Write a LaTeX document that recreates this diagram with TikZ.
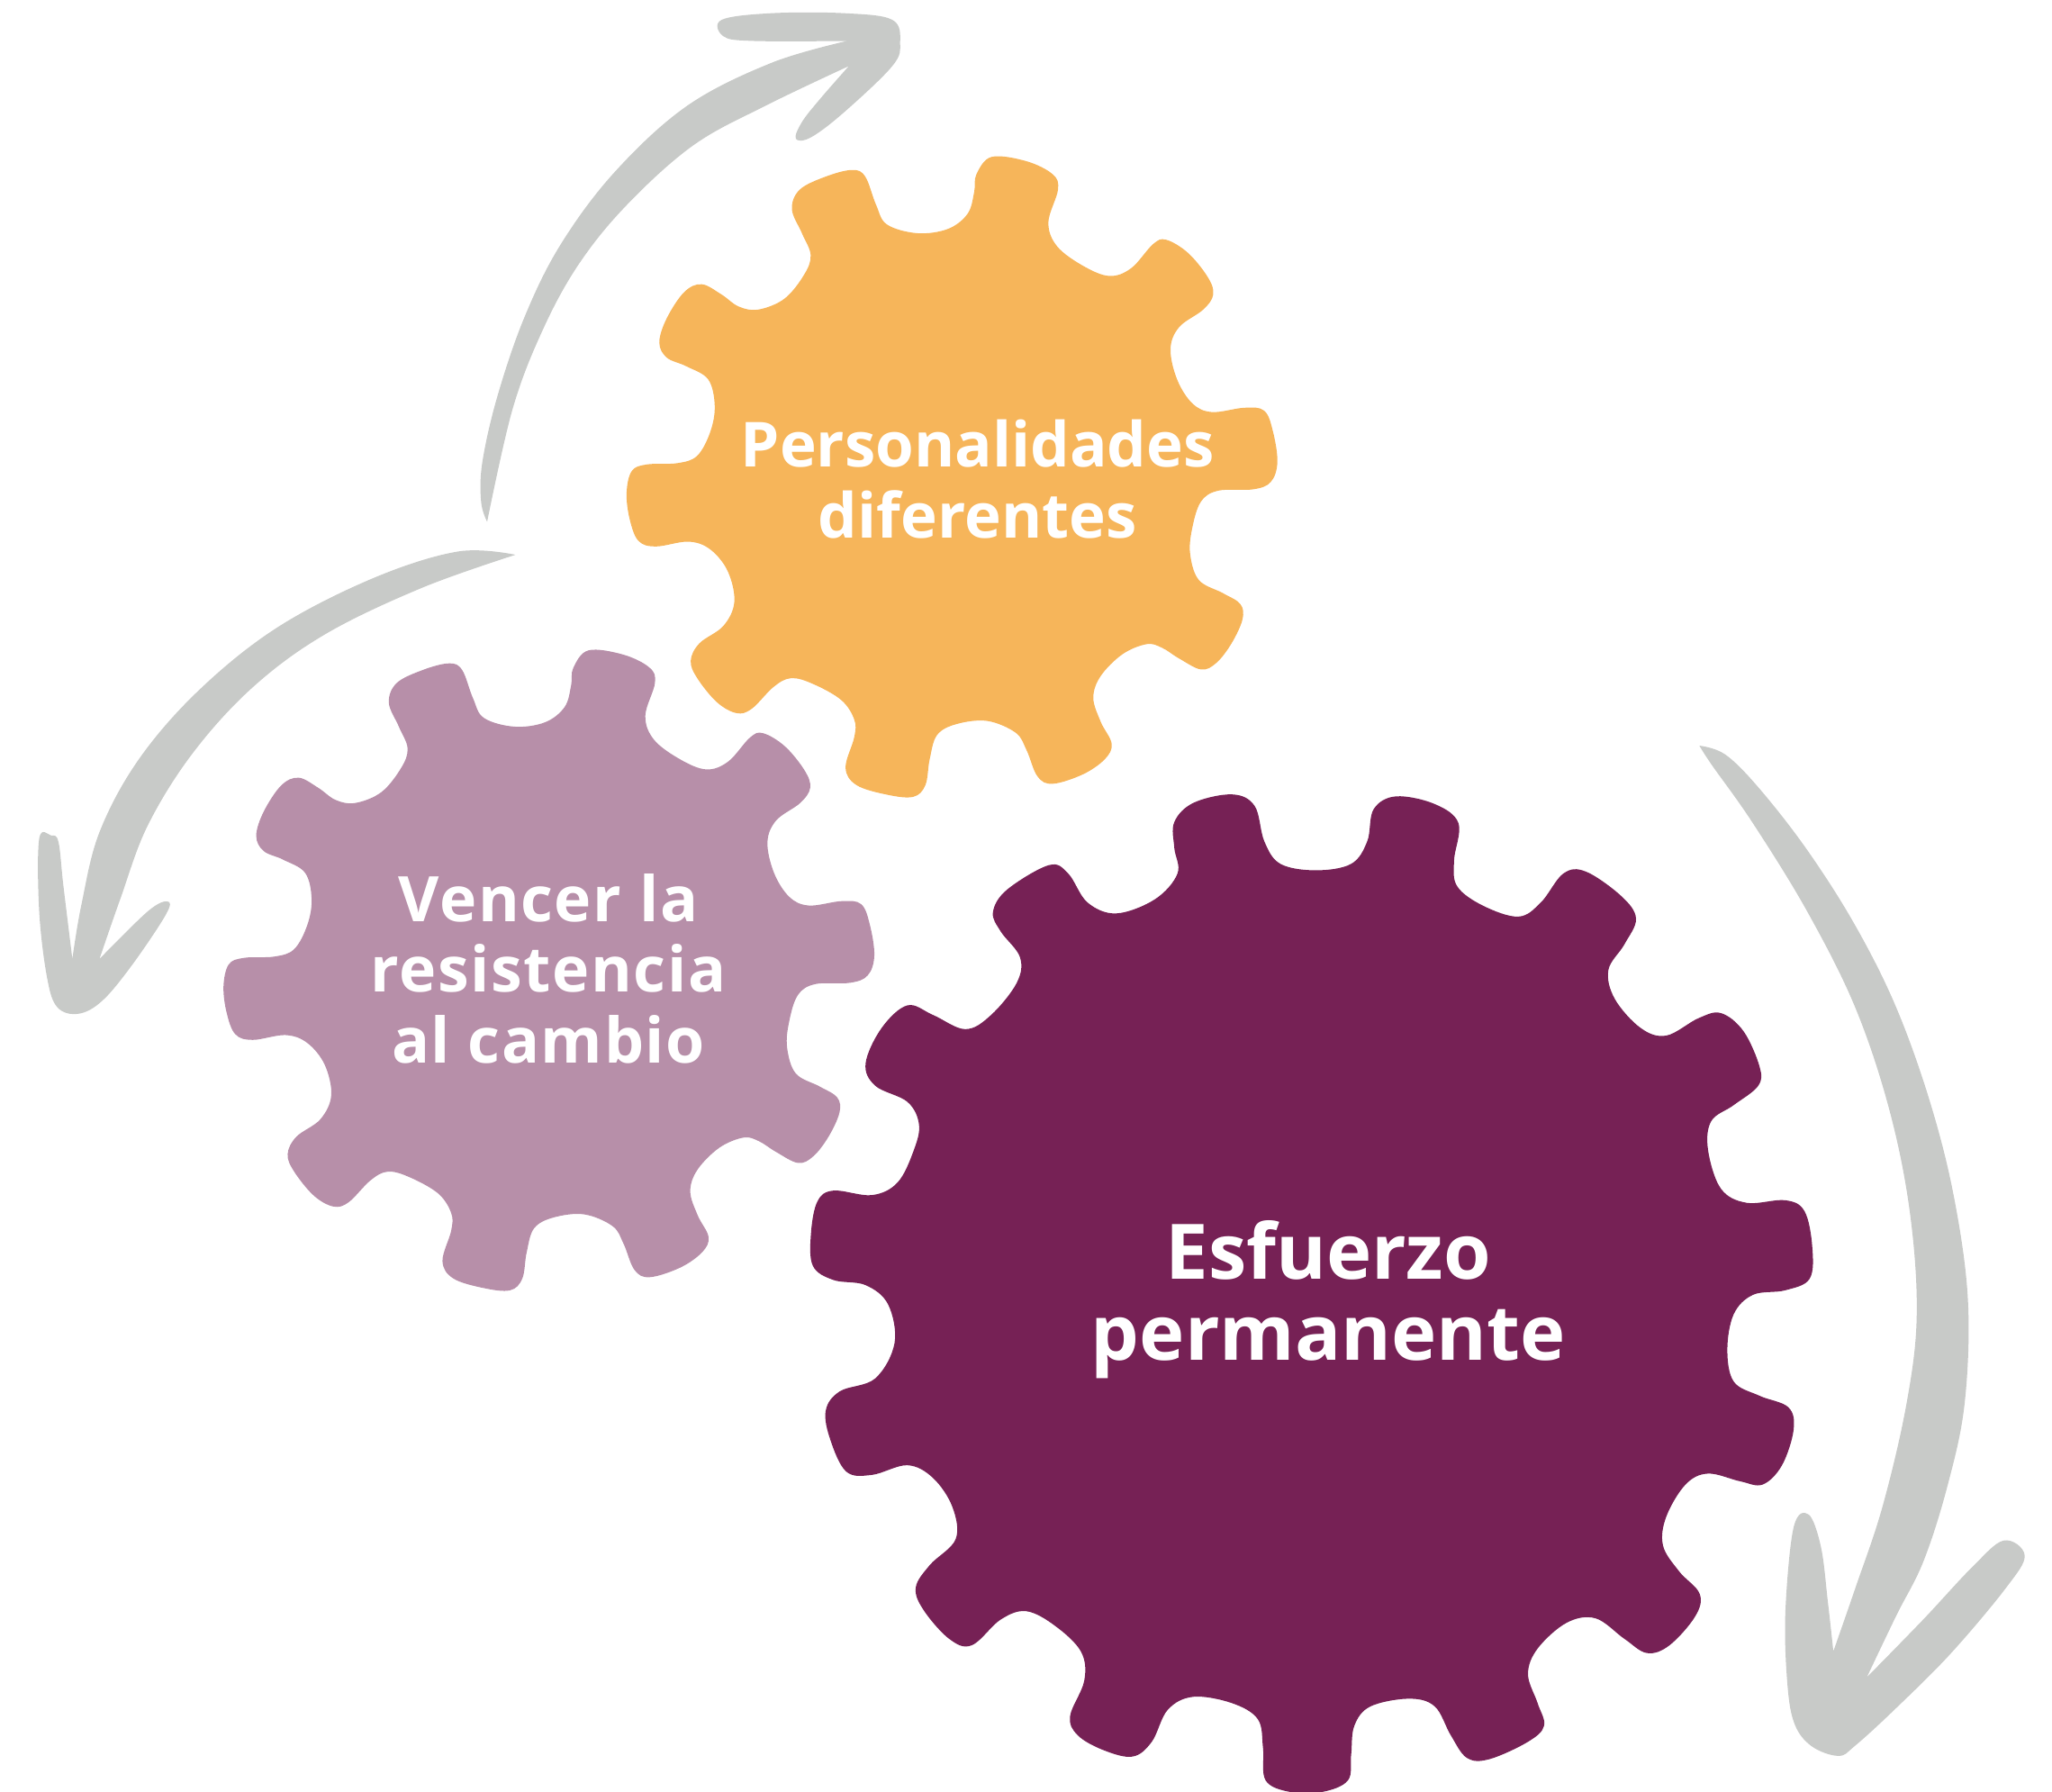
\documentclass[tikz,border=0pt]{standalone}
\usepackage{fontspec}
\setmainfont{Open Sans}
\definecolor{gearorange}{HTML}{F6B55A}
\definecolor{gearmauve}{HTML}{B78FA9}
\definecolor{gearplum}{HTML}{762155}
\definecolor{arrowgray}{HTML}{C8CAC8}
\tikzset{
  sketch/.style={smooth,tension=0.6},
  sketchcycle/.style={smooth cycle,tension=0.6},
  gearlabel/.style={text=white,align=center,inner sep=0pt,font=\fontsize{47.5}{54.3}\selectfont\bfseries},
  widelabel/.style={gearlabel,font=\fontsize{48}{54}\selectfont\bfseries\addfontfeature{LetterSpace=2.3}},
  biglabel/.style={gearlabel,font=\fontsize{58.5}{61.4}\selectfont\bfseries}
}
\newcommand{\smallgear}[1]{%
  \fill[#1] plot[sketchcycle] coordinates {
    (835,90) (870,50) (950,60) (1010,90) (1022,125) (1000,200) (1020,255) (1080,300) (1140,323) (1190,305)
    (1240,250) (1270,240) (1320,270) (1365,325) (1378,365) (1355,400) (1300,440) (1280,490) (1295,560) (1330,615)
    (1375,635) (1450,625) (1495,632) (1515,680) (1525,750) (1510,795) (1470,812) (1390,815) (1350,840) (1330,900)
    (1325,960) (1345,1020) (1400,1050) (1440,1075) (1445,1110) (1420,1165) (1385,1210) (1350,1225) (1300,1200) (1260,1175)
    (1225,1167) (1170,1190) (1120,1240) (1103,1290) (1120,1345) (1145,1395) (1130,1430) (1080,1465) (1010,1487) (975,1470)
    (950,1410) (925,1370) (860,1343) (790,1350) (745,1375) (728,1430) (718,1490) (690,1517) (630,1512) (560,1490)
    (535,1450) (555,1380) (555,1340) (525,1295) (460,1258) (410,1245) (370,1265) (320,1315) (285,1325) (240,1300)
    (195,1245) (180,1205) (200,1165) (255,1125) (280,1070) (265,1000) (225,950) (175,932) (100,943) (60,930)
    (40,880) (33,820) (45,770) (80,755) (150,752) (195,735) (225,680) (235,620) (220,560) (170,530)
    (125,510) (108,475) (125,420) (165,360) (205,342) (250,365) (290,393) (335,400) (395,375) (440,320)
    (455,275) (435,225) (412,170) (430,125) (490,95) (550,80) (580,95) (605,160) (630,205) (700,225)
    (770,215) (815,180) (830,130)};
}
\begin{document}
\begin{tikzpicture}[x=1pt,y=-1pt]
  \useasboundingbox (0,0) rectangle (1568,1369);
  % gears
  \begin{scope}[shift={(467.8,103.2)},scale=0.3333]
    \smallgear{gearorange}
  \end{scope}
  \begin{scope}[shift={(159.8,480.2)},scale=0.3333]
    \smallgear{gearmauve}
  \end{scope}
  \begin{scope}[shift={(612.3,598.6)},scale=0.4914]
    \fill[gearplum] plot[sketchcycle] coordinates {
      (580,60) (610,30) (670,17) (705,35) (720,90) (745,125) (800,135) (855,125) (880,90) (890,40)
      (925,20) (985,32) (1022,62) (1015,120) (1020,160) (1060,190) (1115,207) (1150,185) (1185,140) (1220,137)
      (1275,175) (1298,210) (1280,250) (1255,290) (1265,335) (1305,380) (1345,392) (1395,365) (1430,357) (1465,385)
      (1490,440) (1488,470) (1450,500) (1415,525) (1410,570) (1430,630) (1470,652) (1530,648) (1560,665) (1572,720)
      (1568,770) (1530,788) (1480,795) (1450,825) (1440,880) (1450,930) (1490,952) (1535,970) (1543,1005) (1525,1060)
      (1495,1090) (1460,1085) (1410,1073) (1375,1090) (1345,1140) (1340,1185) (1365,1225) (1397,1260) (1390,1295) (1350,1340)
      (1315,1352) (1280,1330) (1235,1298) (1190,1305) (1145,1345) (1130,1385) (1145,1430) (1155,1465) (1130,1490) (1070,1517)
      (1035,1515) (1010,1480) (985,1435) (945,1423) (885,1435) (860,1465) (855,1510) (850,1550) (810,1568) (760,1568)
      (722,1550) (718,1500) (710,1455) (670,1430) (610,1420) (570,1440) (545,1490) (515,1513) (470,1503) (430,1480)
      (418,1450) (440,1395) (435,1350) (395,1310) (350,1287) (310,1300) (265,1340) (230,1330) (190,1285) (178,1250)
      (200,1215) (240,1175) (235,1125) (205,1080) (165,1060) (110,1075) (70,1070) (45,1020) (38,975) (60,945)
      (115,925) (145,870) (135,810) (100,780) (50,772) (18,750) (15,700) (25,650) (50,633) (110,640)
      (150,620) (175,570) (183,530) (165,495) (115,470) (100,435) (125,380) (165,345) (205,360) (255,382)
      (295,360) (335,310) (340,270) (310,230) (298,200) (320,165) (385,127) (415,140) (445,185) (490,202)
      (550,180) (585,140) (580,100)};
  \end{scope}
  % arrows
  \begin{scope}[xscale=0.4607,yscale=0.5046]
    \fill[arrowgray] plot[sketch] coordinates {(808,790) (850,620) (900,500) (960,400) (1040,310) (1150,220) (1270,160) (1408,100)}
      -- plot[sketch] coordinates {(1408,100) (1360,150) (1330,185) (1320,210) (1345,208) (1400,170) (1480,100) (1493,65) (1480,30) (1400,20) (1280,20) (1197,30) (1200,55) (1250,62) (1405,62)}
      -- plot[sketch] coordinates {(1405,62) (1280,95) (1140,160) (1020,260) (930,370) (870,480) (825,600) (800,700) (798,760) (808,790)} -- cycle;
    \fill[arrowgray] plot[sketch] coordinates {(855,840) (760,835) (620,875) (460,950) (330,1045) (230,1150) (165,1260) (135,1370) (120,1452)}
      -- plot[sketch] coordinates {(120,1452) (105,1340) (97,1275) (85,1265) (65,1270) (65,1380) (78,1480) (95,1525) (130,1535) (170,1515) (220,1460) (275,1385) (278,1365) (245,1380) (165,1452)}
      -- plot[sketch] coordinates {(165,1452) (200,1360) (245,1250) (320,1140) (420,1040) (540,960) (700,890) (855,840)} -- cycle;
  \end{scope}
  \begin{scope}[shift={(749.2,550.4)},scale=0.5222]
    \fill[arrowgray] plot[sketch] coordinates {(1052,37) (1090,50) (1140,100) (1210,190) (1280,300) (1340,420) (1390,560) (1425,700) (1445,850) (1440,1000) (1415,1120) (1380,1230) (1340,1310) (1297,1400)}
      -- plot[sketch] coordinates {(1297,1400) (1380,1315) (1450,1240) (1497,1200) (1528,1222) (1500,1270) (1420,1365) (1340,1445) (1280,1500) (1255,1515) (1215,1500) (1190,1465) (1180,1400) (1178,1300) (1190,1180) (1212,1162) (1230,1210) (1240,1290) (1248,1362)}
      -- plot[sketch] coordinates {(1248,1362) (1280,1270) (1320,1150) (1355,1000) (1370,870) (1360,720) (1330,570) (1280,420) (1210,280) (1130,150) (1070,65) (1052,37)} -- cycle;
  \end{scope}
  % labels
  \node[gearlabel] (personalidades) at (747,366) {Personalidades\\diferentes};
  \node[widelabel] (vencer) at (419,740) {Vencer la\\resistencia\\al cambio};
  \node[biglabel] (esfuerzo) at (1015,993) {Esfuerzo\\permanente};
\end{tikzpicture}
\end{document}
